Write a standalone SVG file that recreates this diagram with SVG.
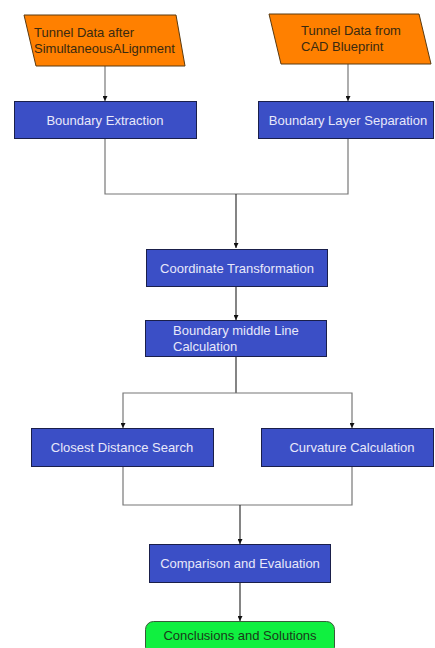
<svg xmlns="http://www.w3.org/2000/svg" width="435" height="648" viewBox="0 0 435 648">
<defs>
<style>
.io{fill:#FF8000;stroke:#5a3a10;stroke-width:1}
.proc{fill:#3B4FC6;stroke:#1a1f4a;stroke-width:1}
.end{fill:#10F040;stroke:#3a5a3a;stroke-width:1}
.t{font-family:"Liberation Sans",Arial,sans-serif;font-size:13px}
.tl{fill:#E8E8FA}
.td{fill:#3a2a10}
.tg{fill:#1a3a1a}
.c{fill:none;stroke:#333;stroke-width:1.2}
.cg{fill:none;stroke:#777;stroke-width:1.2}
</style>
<marker id="ah" markerWidth="6" markerHeight="5" refX="5" refY="2.5" orient="auto" markerUnits="userSpaceOnUse">
<path d="M0,0 L5,2.5 L0,5 Z" fill="#111"/>
</marker>
</defs>
<rect width="435" height="648" fill="#fff"/>
<g id="connectors">
<path class="cg" d="M105,66 V101" marker-end="url(#ah)"/>
<path class="cg" d="M348,64 V101" marker-end="url(#ah)"/>
<path class="cg" d="M105,139 V194 H348 V139"/>
<path class="c" d="M236,194 V248" marker-end="url(#ah)"/>
<path class="c" d="M236,287 V320" marker-end="url(#ah)"/>
<path class="c" d="M236,357 V393"/>
<path class="cg" d="M236,393 H123 V428" marker-end="url(#ah)"/>
<path class="cg" d="M236,393 H352 V428" marker-end="url(#ah)"/>
<path class="cg" d="M123,467 V505 H352 V467"/>
<path class="c" d="M240,505 V544" marker-end="url(#ah)"/>
<path class="c" d="M240,583 V621" marker-end="url(#ah)"/>
</g>
<g id="n1">
<polygon class="io" points="24,15 176,15 185,66 36,66"/>
<text class="t td" x="34" y="37">Tunnel Data after</text>
<text class="t td" x="34" y="53">SimultaneousALignment</text>
</g>
<g id="n2">
<polygon class="io" points="269,14 419,14 431,64 281,64"/>
<text class="t td" x="301" y="35">Tunnel Data from</text>
<text class="t td" x="301" y="51">CAD Blueprint</text>
</g>
<g id="n3">
<rect class="proc" x="14.5" y="101.5" width="182" height="37"/>
<text class="t tl" x="105" y="125" text-anchor="middle">Boundary Extraction</text>
</g>
<g id="n4">
<rect class="proc" x="258.5" y="101.5" width="175" height="37"/>
<text class="t tl" x="348" y="125" text-anchor="middle">Boundary Layer Separation</text>
</g>
<g id="n5">
<rect class="proc" x="146.5" y="249.5" width="181" height="37"/>
<text class="t tl" x="237" y="273" text-anchor="middle">Coordinate Transformation</text>
</g>
<g id="n6">
<rect class="proc" x="145.5" y="320.5" width="181" height="36"/>
<text class="t tl" x="173" y="335">Boundary middle Line</text>
<text class="t tl" x="173" y="351">Calculation</text>
</g>
<g id="n7">
<rect class="proc" x="31.5" y="428.5" width="182" height="38"/>
<text class="t tl" x="122" y="452" text-anchor="middle">Closest Distance Search</text>
</g>
<g id="n8">
<rect class="proc" x="261.5" y="428.5" width="172" height="38"/>
<text class="t tl" x="352" y="452" text-anchor="middle">Curvature Calculation</text>
</g>
<g id="n9">
<rect class="proc" x="149.5" y="544.5" width="181" height="38"/>
<text class="t tl" x="240" y="568" text-anchor="middle">Comparison and Evaluation</text>
</g>
<g id="n10">
<rect class="end" x="145.5" y="621.5" width="189" height="34" rx="8" ry="8"/>
<text class="t tg" x="240" y="640" text-anchor="middle">Conclusions and Solutions</text>
</g>
</svg>
